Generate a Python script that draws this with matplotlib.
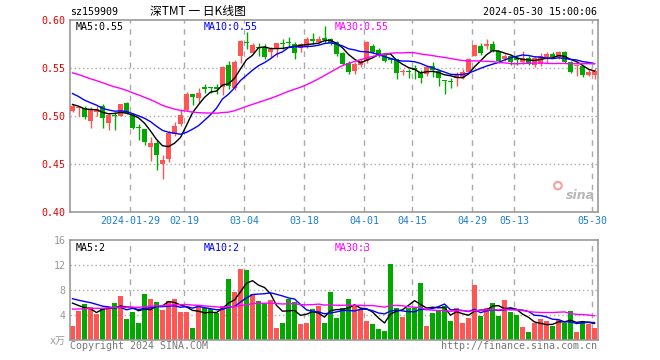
import pandas as pd
import numpy as np
import matplotlib
matplotlib.use("Agg")
import matplotlib.pyplot as plt

plt.rcParams['font.family'] = ['DejaVu Sans Mono', 'Noto Sans CJK SC']

# trading days shown (Shenzhen market holidays removed)
holidays = ["2024-02-09", "2024-02-12", "2024-02-13", "2024-02-14", "2024-02-15",
            "2024-02-16", "2024-04-04", "2024-04-05", "2024-05-01", "2024-05-02", "2024-05-03"]
dates = pd.bdate_range("2024-01-15", "2024-05-30")
dates = dates[~dates.isin(pd.to_datetime(holidays))]

tick_dates = ["2024-01-29", "2024-02-19", "2024-03-04", "2024-03-18", "2024-04-01",
              "2024-04-15", "2024-04-29", "2024-05-13", "2024-05-30"]
tick_labels = ["2024-01-29", "02-19", "03-04", "03-18", "04-01",
               "04-15", "04-29", "05-13", "05-30"]

opens = [0.505, 0.508, 0.508, 0.494, 0.504, 0.510, 0.492, 0.5005, 0.500, 0.513,
         0.501, 0.487, 0.4855, 0.4675, 0.471, 0.450, 0.455, 0.481, 0.491, 0.506,
         0.522, 0.518, 0.5295, 0.529, 0.529, 0.530, 0.5525, 0.529, 0.562, 0.577,
         0.5655, 0.571, 0.571, 0.5657, 0.569, 0.5755, 0.577, 0.5745, 0.570, 0.572,
         0.580, 0.577, 0.5805, 0.5795, 0.577, 0.5655, 0.555, 0.546, 0.553, 0.557,
         0.5725, 0.568, 0.5635, 0.5595, 0.5585, 0.545, 0.5455, 0.549, 0.5455, 0.543,
         0.5515, 0.5465, 0.5367, 0.535, 0.5395, 0.5395, 0.5455, 0.5625, 0.572, 0.572,
         0.5746, 0.567, 0.559, 0.5615, 0.5595, 0.556, 0.5595, 0.5525, 0.5535, 0.5605,
         0.564, 0.561, 0.5658, 0.556, 0.5515, 0.5518, 0.5423, 0.542]
highs = [0.512, 0.510, 0.510, 0.509, 0.510, 0.512, 0.503, 0.504, 0.5125, 0.514,
         0.503, 0.491, 0.486, 0.4775, 0.474, 0.459, 0.484, 0.493, 0.507, 0.5245,
         0.5225, 0.529, 0.533, 0.530, 0.533, 0.552, 0.557, 0.558, 0.579, 0.5865,
         0.576, 0.576, 0.5745, 0.571, 0.576, 0.5795, 0.5815, 0.5765, 0.576, 0.582,
         0.586, 0.5825, 0.5935, 0.581, 0.5775, 0.566, 0.5565, 0.556, 0.559, 0.578,
         0.574, 0.570, 0.564, 0.560, 0.559, 0.548, 0.5485, 0.5525, 0.5475, 0.552,
         0.5555, 0.548, 0.537, 0.5395, 0.5455, 0.548, 0.5595, 0.5735, 0.5757, 0.580,
         0.5775, 0.5675, 0.564, 0.5625, 0.5615, 0.5675, 0.5615, 0.5615, 0.565, 0.566,
         0.5658, 0.567, 0.5676, 0.557, 0.5535, 0.552, 0.548, 0.549]
lows = [0.504, 0.499, 0.496, 0.487, 0.500, 0.487, 0.485, 0.485, 0.499, 0.502,
        0.486, 0.475, 0.469, 0.4525, 0.443, 0.434, 0.452, 0.4785, 0.4895, 0.505,
        0.511, 0.513, 0.5235, 0.523, 0.5225, 0.521, 0.528, 0.527, 0.555, 0.569,
        0.565, 0.562, 0.559, 0.5605, 0.5605, 0.569, 0.571, 0.5585, 0.566, 0.570,
        0.575, 0.575, 0.576, 0.573, 0.5625, 0.553, 0.5435, 0.5435, 0.551, 0.555,
        0.565, 0.561, 0.5555, 0.5545, 0.5385, 0.5425, 0.5395, 0.538, 0.534, 0.541,
        0.5405, 0.5305, 0.522, 0.529, 0.5305, 0.5385, 0.545, 0.5615, 0.563, 0.5695,
        0.566, 0.555, 0.557, 0.5525, 0.5525, 0.5535, 0.5525, 0.551, 0.5518, 0.555,
        0.5595, 0.559, 0.555, 0.544, 0.541, 0.5405, 0.541, 0.538]
closes = [0.510, 0.509, 0.498, 0.506, 0.507, 0.497, 0.501, 0.4998, 0.5115, 0.503,
          0.487, 0.4865, 0.472, 0.471, 0.459, 0.454, 0.482, 0.4895, 0.501, 0.5225,
          0.5195, 0.5235, 0.528, 0.5285, 0.528, 0.5505, 0.5305, 0.556, 0.578, 0.5755,
          0.5735, 0.570, 0.5605, 0.569, 0.5755, 0.5745, 0.5755, 0.5655, 0.574, 0.580,
          0.5775, 0.580, 0.5785, 0.576, 0.564, 0.554, 0.5455, 0.554, 0.557, 0.577,
          0.5665, 0.5625, 0.5565, 0.558, 0.5445, 0.5455, 0.545, 0.5475, 0.5395, 0.5505,
          0.5475, 0.539, 0.5355, 0.5345, 0.542, 0.5455, 0.5588, 0.573, 0.565, 0.574,
          0.567, 0.557, 0.562, 0.556, 0.558, 0.5595, 0.5535, 0.5595, 0.5616, 0.564,
          0.5613, 0.5658, 0.556, 0.5455, 0.552, 0.5423, 0.5454, 0.5465]
volumes = [2.2, 4.6, 5.7, 5.35, 4.1, 4.9, 5.3, 5.9, 7.0, 3.3,
           4.5, 2.7, 7.3, 6.5, 6.05, 4.75, 6.2, 6.5, 4.5, 4.5,
           2.0, 5.55, 5.2, 4.9, 4.3, 5.4, 9.75, 7.7, 11.4, 11.2,
           7.4, 6.2, 5.8, 6.4, 1.85, 2.8, 6.5, 6.1, 2.5, 2.7,
           4.9, 5.4, 2.8, 7.7, 3.5, 5.1, 6.5, 5.4, 5.0, 3.0,
           2.5, 1.7, 1.4, 12.2, 5.2, 3.7, 5.2, 5.2, 9.2, 2.3,
           4.3, 4.75, 5.5, 3.0, 5.1, 2.7, 3.5, 8.8, 3.85, 5.1,
           5.9, 3.85, 6.4, 4.5, 3.95, 2.05, 1.25, 2.7, 3.35, 3.0,
           2.2, 3.25, 2.75, 4.6, 1.25, 2.9, 2.6, 1.9]

# closes / volumes of the 29 sessions before the window, only used for the moving averages
prior_closes = [0.560, 0.566, 0.571, 0.565, 0.562, 0.568, 0.563, 0.559, 0.566, 0.563,
                0.551, 0.548, 0.544, 0.547, 0.543, 0.546, 0.541, 0.545, 0.5425, 0.5525,
                0.540, 0.536, 0.533, 0.532, 0.5305, 0.518, 0.512, 0.509, 0.5085]
prior_volumes = [3.8, 4.5, 3.2, 4.1, 5.0, 3.6, 4.4, 3.9, 4.8, 3.5,
                 4.2, 3.7, 4.6, 3.9, 4.3, 3.4, 4.0, 4.5, 3.8, 4.8,
                 6.9, 7.8, 7.2, 6.8, 7.8, 6.5, 7.4, 6.2, 7.2]

RED = "#ff5555"
GREEN = "#00a800"
GRID = "#aaaaaa"
FRAME = "#999999"

df = pd.DataFrame({"open": opens, "high": highs, "low": lows, "close": closes,
                   "vol": volumes}, index=dates)
n = len(df)
x = np.arange(n)
up = df["close"] >= df["open"]
cols = np.where(up, RED, GREEN)

all_close = pd.Series(prior_closes + closes)
all_vol = pd.Series(prior_volumes + volumes)
k = len(prior_closes)
ma = {p: all_close.rolling(p).mean().values[k:] for p in (5, 10, 30)}
vma = {p: all_vol.rolling(p).mean().values[k:] for p in (5, 10, 30)}
ma_colors = {5: "black", 10: "#0000ff", 30: "#ff00ff"}

tick_pos = [list(df.index).index(pd.Timestamp(d)) - 0.4 for d in tick_dates]

fig = plt.figure(figsize=(6.6, 3.6), dpi=100)
ax = fig.add_axes([70 / 660, 148.5 / 360, 527.5 / 660, 192 / 360])
axv = fig.add_axes([70 / 660, 20 / 360, 527.5 / 660, 100 / 360])

# price panel
for v in [0.45, 0.50, 0.55]:
    ax.axhline(v, color=GRID, lw=1, ls=(0, (1, 2)), zorder=0)
for t in tick_pos:
    ax.axvline(t, color=GRID, lw=1, ls=(0, (4, 4)), zorder=0)
    axv.axvline(t, color=GRID, lw=1, ls=(0, (4, 4)), zorder=0)

ax.vlines(x, df["low"], df["high"], colors=cols, lw=1, zorder=2)
body = (df["close"] - df["open"]).abs().clip(lower=0.0012)
ax.bar(x, body, bottom=df[["open", "close"]].min(axis=1), width=0.83,
       color=cols, zorder=3)
for p in (5, 10, 30):
    ax.plot(x, ma[p], color=ma_colors[p], lw=1, zorder=4)

ax.set_xlim(-0.42, 87.5)
ax.set_ylim(0.40, 0.60)
ax.set_yticks([0.40, 0.45, 0.50, 0.55, 0.60])
ax.set_yticklabels(["%.2f" % v for v in [0.40, 0.45, 0.50, 0.55, 0.60]],
                   color="#e00000", fontsize=7.2)
ax.set_xticks(tick_pos)
ax.set_xticklabels(tick_labels, color="#1a7fd0", fontsize=7.2)
ax.tick_params(length=0, pad=3)

ax.text(0.01, 0.985, "MA5:0.55", transform=ax.transAxes, color="black",
        fontsize=7.2, va="top")
ax.text(134 / 527.5, 0.985, "MA10:0.55", transform=ax.transAxes, color="#0000ff",
        fontsize=7.2, va="top")
ax.text(265 / 527.5, 0.985, "MA30:0.55", transform=ax.transAxes, color="#ff00ff",
        fontsize=7.2, va="top")
ax.text(0.995, 0.05, "sina", transform=ax.transAxes, color="#b8b8b8",
        fontsize=9, style="italic", fontweight="bold", family="DejaVu Sans",
        ha="right", va="bottom")
ax.scatter([0.925], [0.135], s=30, transform=ax.transAxes, facecolor="none",
           edgecolor="#f3a0a0", lw=1.5, zorder=5)

# volume panel
for v in [4, 8, 12]:
    axv.axhline(v, color=GRID, lw=1, ls=(0, (1, 2)), zorder=0)
axv.bar(x, df["vol"], width=0.83, color=cols, zorder=2)
for p in (5, 10, 30):
    axv.plot(x, vma[p], color=ma_colors[p], lw=1, zorder=3)
axv.set_xlim(-0.42, 87.5)
axv.set_ylim(0, 16)
axv.set_yticks([0, 4, 8, 12, 16])
axv.set_yticklabels(["x万", "4", "8", "12", "16"], color="#999999", fontsize=7.2)
axv.set_xticks([])
axv.tick_params(length=0, pad=3)

axv.text(0.01, 0.97, "MA5:2", transform=axv.transAxes, color="black",
         fontsize=7.2, va="top")
axv.text(134 / 527.5, 0.97, "MA10:2", transform=axv.transAxes, color="#0000ff",
         fontsize=7.2, va="top")
axv.text(265 / 527.5, 0.97, "MA30:3", transform=axv.transAxes, color="#ff00ff",
         fontsize=7.2, va="top")

for a in (ax, axv):
    for s in a.spines.values():
        s.set_color(FRAME)
        s.set_linewidth(1.2)

# header / footer
fig.text(70 / 660, 1 - 12 / 360, "sz159909", fontsize=7.2, va="center")
fig.text(150 / 660, 1 - 12 / 360, "深TMT 一 日K线图", fontsize=8.5, va="center",
         family=["Noto Sans CJK SC", "DejaVu Sans"])
fig.text(597 / 660, 1 - 12 / 360, "2024-05-30 15:00:06", fontsize=7.2,
         va="center", ha="right")
fig.text(70 / 660, 1 - 346 / 360, "Copyright 2024 SINA.COM", fontsize=7.2,
         va="center", color="#777777")
fig.text(597 / 660, 1 - 346 / 360, "http://finance.sina.com.cn", fontsize=7.2,
         va="center", ha="right", color="#777777")

fig.savefig("out.png", dpi=100)
